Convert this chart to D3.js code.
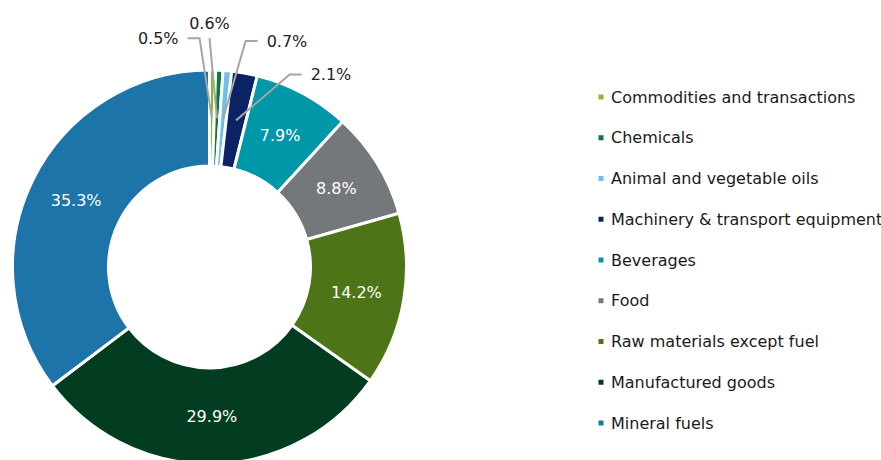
<!DOCTYPE html>
<html>
<head>
<meta charset="utf-8">
<script src="https://cdn.jsdelivr.net/npm/d3@7"></script>
<style>
  body { margin: 0; background: #fff; }
  svg text { font-family: Verdana, "DejaVu Sans", sans-serif; }
</style>
</head>
<body>
<div id="d-chart"></div>
<script>
// chart data, clockwise from 12 o'clock
const categories = ['Commodities and transactions', 'Chemicals', 'Animal and vegetable oils',
  'Machinery & transport equipment', 'Beverages', 'Food', 'Raw materials except fuel',
  'Manufactured goods', 'Mineral fuels']
const shares = [0.5, 0.6, 0.7, 2.1, 7.9, 8.8, 14.2, 29.9, 35.3]
const colours = ['#86bc25', '#0b7a3d', '#6fbfe8', '#0b2265', '#0097a9', '#75787b', '#4e7418', '#023d22', '#1d74a8']

const width = 881, height = 460
const cx = 209.5, cy = 267
const outerR = 197, innerR = 101
const midR = (outerR + innerR) / 2

const input = categories.map((name, i) => ({ name: name, value: shares[i], color: colours[i] }))

const svg = d3.select('#d-chart').append('svg')
  .attr('width', width)
  .attr('height', height)

const pie = d3.pie()
  .sort(null)
  .value(d => d.value)
const arc = d3.arc()
  .outerRadius(outerR)
  .innerRadius(innerR)
const labelArc = d3.arc()
  .outerRadius(midR)
  .innerRadius(midR)

const arcs = pie(input)
const g = svg.append('g').attr('transform', `translate(${cx},${cy})`)

g.selectAll('.arc')
  .data(arcs)
  .enter().append('path')
  .attr('class', 'arc')
  .attr('d', arc)
  .style('fill', d => d.data.color)
  .style('stroke', 'white')
  .style('stroke-width', 3)

const fmt = v => v.toFixed(1) + '%'

// big slices: label inside
g.selectAll('.in-label')
  .data(arcs.filter(d => d.data.value >= 5))
  .enter().append('text')
  .attr('class', 'in-label')
  .attr('transform', d => `translate(${labelArc.centroid(d)})`)
  .attr('text-anchor', 'middle')
  .attr('dy', '0.35em')
  .style('font-size', '16px')
  .style('fill', '#fff')
  .text(d => fmt(d.data.value))

// small slices: callouts fanned out above the ring
const small = arcs.filter(d => d.data.value < 5)
const deg = Math.PI / 180
small.forEach(d => {
  const mid = (d.startAngle + d.endAngle) / 2 / deg
  const a = 2.68 * mid - 4.9
  const r = outerR + 32 - 1.5 * Math.max(0, Math.abs(a) - 9)
  d.elbow = [r * Math.sin(a * deg), -r * Math.cos(a * deg)]
  d.side = a < -1 ? -1 : (a < 4 ? 0 : 1)
})
// the centred one sits straight up
small.filter(d => d.side === 0).forEach(d => { d.elbow = [0, -(outerR + 32)] })

const co = g.selectAll('.callout')
  .data(small)
  .enter().append('g')
  .attr('class', 'callout')

co.append('polyline')
  .attr('points', d => {
    const c = labelArc.centroid(d)
    const e = d.elbow
    const pts = [c, e]
    if (d.side !== 0) pts.push([e[0] + d.side * 12, e[1]])
    return pts.map(p => p.join(',')).join(' ')
  })
  .style('fill', 'none')
  .style('stroke', '#a5a5a5')
  .style('stroke-width', 2)

co.append('text')
  .attr('x', d => d.side === 0 ? d.elbow[0] : d.elbow[0] + d.side * 21)
  .attr('y', d => d.side === 0 ? d.elbow[1] - 9 : d.elbow[1])
  .attr('dy', d => d.side === 0 ? 0 : '0.35em')
  .attr('text-anchor', d => d.side === 0 ? 'middle' : (d.side < 0 ? 'end' : 'start'))
  .style('font-size', '16px')
  .style('fill', '#222')
  .text(d => fmt(d.data.value))

// legend
const legendY = d3.scalePoint()
  .domain(categories)
  .range([97, 423])

const lg = svg.selectAll('.legend')
  .data(input)
  .enter().append('g')
  .attr('class', 'legend')
  .attr('transform', d => `translate(600,${legendY(d.name)})`)

lg.append('rect')
  .attr('x', -1.5)
  .attr('y', -2.5)
  .attr('width', 5)
  .attr('height', 5)
  .style('fill', d => d.color)

lg.append('text')
  .attr('x', 11)
  .attr('dy', '0.35em')
  .style('font-size', '16px')
  .style('fill', '#1a1a1a')
  .text(d => d.name)
</script>
</body>
</html>
